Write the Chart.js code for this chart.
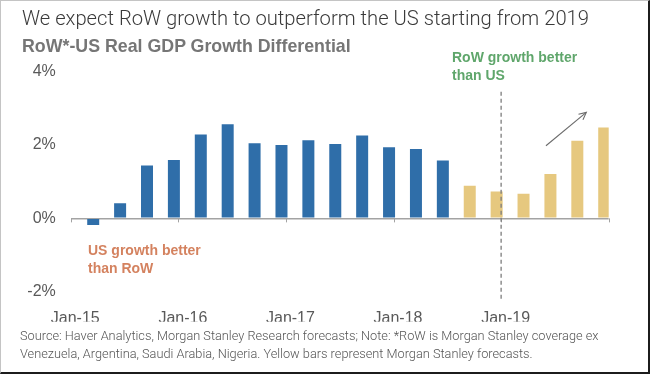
<!DOCTYPE html>
<html>
<head>
<meta charset="utf-8">
<script src="https://cdn.jsdelivr.net/npm/chart.js@4.4.1/dist/chart.umd.min.js"></script>
<style>
  html, body { margin: 0; padding: 0; background: #ffffff; }
  #stage { position: relative; width: 650px; height: 374px; overflow: hidden; background: #fff; }
  #chart { position: absolute; left: 0; top: 0; }
  .txt { position: absolute; white-space: nowrap; }
  #title { left: 22px; top: 8px; font-family: 'Roboto', sans-serif; font-weight: 300; font-size: 20.2px; line-height: 20px; color: #3a3a3a; }
  #subtitle { left: 22px; top: 37px; font-family: 'Liberation Sans', Arial, sans-serif; font-weight: bold; font-size: 17.8px; line-height: 18px; color: #767676; }
  .ann { font-family: 'Liberation Sans', Arial, sans-serif; font-weight: bold; font-size: 14px; line-height: 18px; }
  #annRow { left: 452px; top: 48px; color: #5fa66b; }
  #annUs { left: 88px; top: 241px; color: #d4825f; }
  #foot { left: 20px; top: 327px; font-family: 'Roboto', sans-serif; font-weight: 300; font-size: 12.75px; line-height: 18px; color: #555555; }
  #frame { position: absolute; left: 0; top: 0; width: 650px; height: 374px; box-sizing: border-box;
           border-left: 1px solid #c4c4c4; border-top: 1px solid #c4c4c4; border-right: 2px solid #1c1c1c; border-bottom: 2px solid #1c1c1c; pointer-events: none; }
</style>
</head>
<body>
<div id="stage">
  <canvas id="chart" width="650" height="374"></canvas>
  <div class="txt" id="title">We expect RoW growth to outperform the US starting from 2019</div>
  <div class="txt" id="subtitle">RoW*-US Real GDP Growth Differential</div>
  <div class="txt ann" id="annRow">RoW growth better<br>than US</div>
  <div class="txt ann" id="annUs">US growth better<br>than RoW</div>
  <div class="txt" id="foot">Source: Haver Analytics, Morgan Stanley Research forecasts; Note: *RoW is Morgan Stanley coverage ex<br>Venezuela, Argentina, Saudi Arabia, Nigeria. Yellow bars represent Morgan Stanley forecasts.</div>
  <div id="frame"></div>
</div>
<script>
// ---- data ----
const actualQuarters = ['2015Q1','2015Q2','2015Q3','2015Q4','2016Q1','2016Q2','2016Q3','2016Q4',
                        '2017Q1','2017Q2','2017Q3','2017Q4','2018Q1','2018Q2'];
const actualGrowth   = [-0.18, 0.41, 1.44, 1.59, 2.29, 2.57, 2.05, 2.00,
                        2.13, 2.03, 2.26, 1.94, 1.89, 1.58];
const forecastQuarters = ['2018Q3','2018Q4','2019Q1','2019Q2','2019Q3','2019Q4'];
const forecastGrowth   = [0.89, 0.73, 0.67, 1.21, 2.12, 2.48];
const yTickValues  = [-2, 0, 2, 4];
const xTickLabels  = ['Jan-15', 'Jan-16', 'Jan-17', 'Jan-18', 'Jan-19'];
const xTickMonths  = [0, 12, 24, 36, 48];          // months since Jan-2015
const axisTickMonths = [-0.5, 11.5, 23.5, 35.5, 47.5, 59.5];
const forecastStartMonth = 47.5;                   // dashed divider (Jan-19)
const dividerRange = [3.45, -2.25];                // y-extent of divider, in %
const trendArrow = { from: [52.5, 1.98], to: [57.0, 2.89] }; // (month, %)

// quarter label -> month index of quarter end (Jan-2015 = 0)
function quarterMonth(q) {
  const y = parseInt(q.slice(0, 4), 10), n = parseInt(q.slice(5), 10);
  return (y - 2015) * 12 + n * 3 - 1;
}
const toPoints = (qs, vals) => qs.map((q, i) => ({ x: quarterMonth(q), y: vals[i] }));

const BLUE = '#2f6ea9', GOLD = '#e6c87f', AXIS = '#a3a3a3';

const overlay = {
  id: 'overlay',
  afterDatasetsDraw(chart) {
    const { ctx, scales: { x, y } } = chart;
    const y0 = y.getPixelForValue(0);
    ctx.save();
    // small tick marks on the zero line
    ctx.strokeStyle = AXIS; ctx.lineWidth = 1;
    axisTickMonths.forEach(m => {
      const px = Math.round(x.getPixelForValue(m)) + 0.5;
      ctx.beginPath(); ctx.moveTo(px, y0); ctx.lineTo(px, y0 + 4); ctx.stroke();
    });
    // dashed divider
    const dx = x.getPixelForValue(forecastStartMonth);
    ctx.strokeStyle = '#7d7d7d'; ctx.lineWidth = 1.3; ctx.setLineDash([4, 3]);
    ctx.beginPath();
    ctx.moveTo(dx, y.getPixelForValue(dividerRange[0]));
    ctx.lineTo(dx, y.getPixelForValue(dividerRange[1]));
    ctx.stroke();
    ctx.setLineDash([]);
    // trend arrow
    const ax1 = x.getPixelForValue(trendArrow.from[0]), ay1 = y.getPixelForValue(trendArrow.from[1]);
    const ax2 = x.getPixelForValue(trendArrow.to[0]),   ay2 = y.getPixelForValue(trendArrow.to[1]);
    ctx.strokeStyle = '#6b6b6b'; ctx.lineWidth = 1.1;
    ctx.beginPath(); ctx.moveTo(ax1, ay1); ctx.lineTo(ax2, ay2); ctx.stroke();
    const ang = Math.atan2(ay2 - ay1, ax2 - ax1), hl = 8;
    ctx.beginPath();
    ctx.moveTo(ax2 - hl * Math.cos(ang - 0.45), ay2 - hl * Math.sin(ang - 0.45));
    ctx.lineTo(ax2, ay2);
    ctx.lineTo(ax2 - hl * Math.cos(ang + 0.45), ay2 - hl * Math.sin(ang + 0.45));
    ctx.stroke();
    ctx.restore();
  }
};

new Chart(document.getElementById('chart'), {
  type: 'bar',
  data: {
    datasets: [
      { label: 'Actual', data: toPoints(actualQuarters, actualGrowth), backgroundColor: BLUE },
      { label: 'Forecast', data: toPoints(forecastQuarters, forecastGrowth), backgroundColor: GOLD }
    ]
  },
  options: {
    responsive: false,
    animation: false,
    devicePixelRatio: 1,
    grouped: false,
    maxBarThickness: 12,
    categoryPercentage: 0.9,
    barPercentage: 0.9,
    layout: { padding: { left: 0, right: 41.3, top: 71.7, bottom: 52.3 } },
    plugins: { legend: { display: false }, tooltip: { enabled: false }, title: { display: false } },
    scales: {
      x: {
        type: 'linear',
        min: -0.5, max: 59.5,
        bounds: 'data',
        offset: false,
        grid: { display: false },
        border: { display: false },
        afterBuildTicks: s => { s.ticks = xTickMonths.map(v => ({ value: v })); },
        afterFit: s => { s.height = 30; },
        ticks: {
          autoSkip: false, maxRotation: 0, padding: 9,
          color: '#595959',
          font: { family: "'Liberation Sans', Arial, sans-serif", size: 16 },
          callback: (v, i) => xTickLabels[i]
        }
      },
      y: {
        min: -2, max: 4,
        afterBuildTicks: s => { s.ticks = yTickValues.map(v => ({ value: v })); },
        afterFit: s => { s.width = 70.8; },
        grid: {
          drawTicks: false,
          color: c => (c.tick && c.tick.value === 0 ? AXIS : 'rgba(0,0,0,0)'),
          lineWidth: 1.5
        },
        border: { display: false },
        ticks: {
          padding: 15,
          color: '#595959',
          font: { family: "'Liberation Sans', Arial, sans-serif", size: 16 },
          callback: v => v + '%'
        }
      }
    }
  },
  plugins: [overlay]
});
</script>
</body>
</html>
